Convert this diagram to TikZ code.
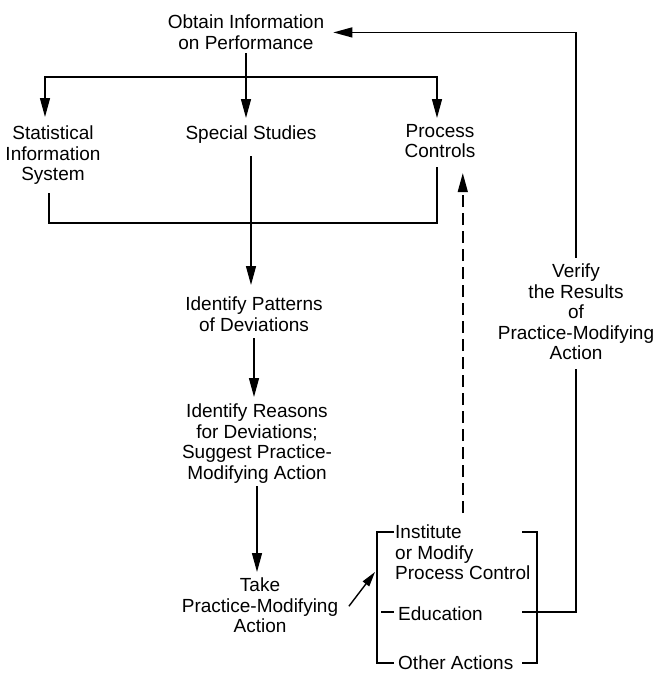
\documentclass[tikz,border=0pt]{standalone}
\usepackage{fontspec}
\setmainfont{Liberation Sans}
\usetikzlibrary{arrows.meta}
\begin{document}
\begin{tikzpicture}[x=1pt,y=-1pt,
  lbl/.style={inner sep=0pt, align=center, font=\fontsize{19}{20.5}\selectfont},
  conn/.style={line width=1.4pt, line cap=rect},
  arr/.style={conn, -{Triangle[length=19pt,width=10pt]}},
  sarr/.style={conn, -{Triangle[length=15pt,width=8pt]}},
  dasharr/.style={line width=1.5pt, dash pattern=on 12pt off 6pt, -{Triangle[length=19pt,width=10pt]}},
]
\useasboundingbox (0,0) rectangle (655,675);

% nodes
\node[lbl, anchor=north] (obtain) at (246,15) {Obtain Information\\on Performance};
\node[lbl, anchor=north] (stat) at (53,126) {Statistical\\Information\\System};
\node[lbl, anchor=north] (special) at (251,126) {Special Studies};
\node[lbl, anchor=north] (process) at (440,124) {Process\\Controls};
\node[lbl, anchor=north] (patterns) at (254,297) {Identify Patterns\\of Deviations};
\node[lbl, anchor=north] (reasons) at (257,404) {Identify Reasons\\for Deviations;\\Suggest Practice-\\Modifying Action};
\node[lbl, anchor=north] (take) at (260,578) {Take\\Practice-Modifying\\Action};
\node[lbl, anchor=north] (verify) at (576,264) {Verify\\the Results\\of\\Practice-Modifying\\Action};
\node[lbl, align=left, anchor=north west] (institute) at (395,525) {Institute\\or Modify\\Process Control};
\node[lbl, anchor=base west] (education) at (398,620) {Education};
\node[lbl, anchor=base west] (other) at (398,669) {Other Actions};

% coordinates
\coordinate (busL) at (45,77);
\coordinate (busR) at (437,77);
\coordinate (botL) at (49,223);
\coordinate (botR) at (437,223);
\coordinate (brTL) at (377,532);
\coordinate (brBL) at (377,663);
\coordinate (brTR) at (537,532);
\coordinate (brBR) at (537,663);
\coordinate (brML) at (377,612);
\coordinate (brMR) at (537,612);
\coordinate (brIn) at (375,572);

% top distribution
\draw[arr, shorten <=4pt, shorten >=8pt] (obtain.south) -- (obtain.south |- special.north);
\draw[arr, shorten >=9pt] (busR) -- (busL) -- (busL |- stat.north);
\draw[arr, shorten >=6pt] (busR) -- (busR |- process.north);

% collection
\draw[conn, shorten <=9pt, shorten >=10pt] (botL |- stat.south) -- (botL) -- (botR) -- (botR |- process.south);
\draw[arr, shorten <=13pt, shorten >=12pt] (special.south) -- (special.south |- patterns.north);
\draw[arr, shorten <=7pt, shorten >=7pt] (patterns.south) -- (patterns.south |- reasons.north);
\draw[arr, shorten <=3pt, shorten >=6pt] (reasons.south) -- (reasons.south |- take.north);

% action bracket
\draw[conn] ([xshift=16pt]brTL) -- (brTL) -- (brBL) -- ([xshift=16pt]brBL);
\draw[conn] ([xshift=-14pt]brTR) -- (brTR) -- (brBR) -- ([xshift=-14pt]brBR);
\draw[conn] ([xshift=5pt]brML) -- ([xshift=16pt]brML);
\draw[sarr] ([xshift=11pt]take.east) -- (brIn);

% feedback
\draw[conn, shorten >=9pt] ([xshift=-14pt]brMR) -| (verify.south);
\draw[arr, shorten <=7pt, shorten >=9pt] (verify.north) |- (obtain.east);
\draw[dasharr, shorten <=12pt, shorten >=15pt] (institute.north) -- (institute.north |- process.south);
\end{tikzpicture}
\end{document}
